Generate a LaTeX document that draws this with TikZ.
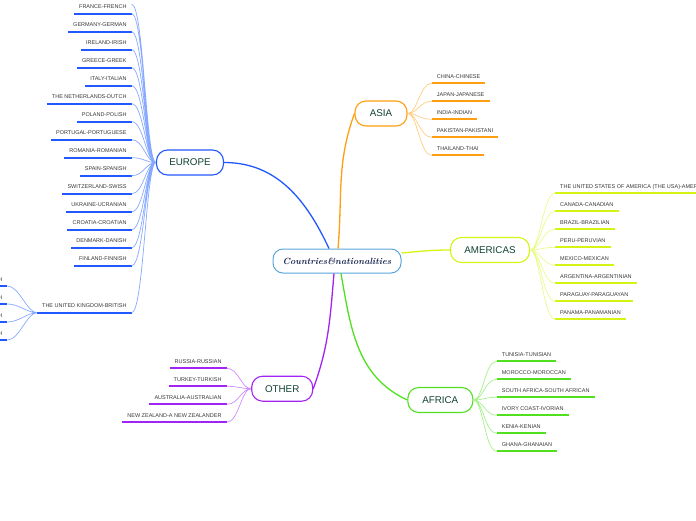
\documentclass[tikz,border=0pt]{standalone}
\usepackage{fontspec}
\setsansfont{Liberation Sans}
\usetikzlibrary{positioning}
\usepackage{xcolor}
\definecolor{centerblue}{RGB}{90,166,220}
\definecolor{titlenavy}{RGB}{22,36,80}
\definecolor{topictext}{RGB}{16,66,50}
\definecolor{leaftext}{RGB}{55,55,55}
\definecolor{eublue}{RGB}{34,88,255}
\definecolor{eulight}{RGB}{134,168,255}
\definecolor{asorange}{RGB}{255,158,16}
\definecolor{aslight}{RGB}{255,204,128}
\definecolor{amyellow}{RGB}{214,244,20}
\definecolor{amlight}{RGB}{234,250,140}
\definecolor{afgreen}{RGB}{80,224,30}
\definecolor{aflight}{RGB}{166,240,138}
\definecolor{otpurple}{RGB}{162,36,245}
\definecolor{otlight}{RGB}{204,140,255}

\begin{document}
\begin{tikzpicture}[x=1pt, y=1pt,
  topic/.style={rectangle, draw=#1, fill=white, rounded corners=11pt, line width=1.1pt, minimum height=25pt, inner xsep=0pt, font=\sffamily\fontsize{9.8}{11}\selectfont, text=topictext},
  leafl/.style={anchor=south west, inner xsep=5pt, inner ysep=4.6pt, text height=4pt, text depth=0pt, font=\sffamily\fontsize{5.5}{6}\selectfont, text=leaftext,
    append after command={\pgfextra{\let\leafnode\tikzlastnode} (\leafnode.south west) edge[draw=#1, line width=1.8pt] (\leafnode.south east)}},
  leafr/.style={leafl=#1, anchor=south east},
  branch/.style={draw=#1, line width=1.3pt},
  twig/.style={draw=#1, line width=0.7pt, out distance=10pt, in distance=12pt},
  rfan/.style={twig=#1, out=0, in=180},
  lfan/.style={twig=#1, out=180, in=0}]
\useasboundingbox (0,0) rectangle (696,-520);

% centre and main topics
\node[rectangle, draw=centerblue, fill=white, rounded corners=10pt, line width=1pt, minimum width=128pt, minimum height=24pt, font=\fontsize{9}{11}\selectfont\bfseries\itshape, text=titlenavy] (center) at (337,-261) {Countries\&nationalities};
\node[topic=eublue, minimum width=67pt] (europe) at (190,-162.5) {EUROPE};
\node[topic=asorange, minimum width=52pt] (asia) at (381,-113.5) {ASIA};
\node[topic=amyellow, minimum width=79pt] (americas) at (490,-250) {AMERICAS};
\node[topic=afgreen, minimum width=65pt] (africa) at (440.3,-400) {AFRICA};
\node[topic=otpurple, minimum width=61pt] (other) at (282.2,-388.7) {OTHER};

\draw[branch=eublue] ([xshift=-8pt]center.north) to[out=115, in=0] (europe.east);
\draw[branch=asorange] ([xshift=1pt]center.north) to[out=85, in=250] (asia.west);
\draw[branch=amyellow] ([yshift=8pt]center.east) to[out=5, in=180] (americas.west);
\draw[branch=afgreen] ([xshift=4pt]center.south) to[out=-80, in=155] (africa.west);
\draw[branch=otpurple] ([xshift=-3pt]center.south) to[out=-95, in=70] (other.east);

% asia
\node[leafl=asorange] (as1) at (431.7,-83.3) {CHINA-CHINESE};
\node[below=18pt of as1.south west, leafl=asorange] (as2) {JAPAN-JAPANESE};
\node[below=18pt of as2.south west, leafl=asorange] (as3) {INDIA-INDIAN};
\node[below=18pt of as3.south west, leafl=asorange] (as4) {PAKISTAN-PAKISTANI};
\node[below=18pt of as4.south west, leafl=asorange] (as5) {THAILAND-THAI};
\draw[rfan=aslight] (asia.east) to (as1.south west) (asia.east) to (as2.south west)
  (asia.east) to (as3.south west) (asia.east) to (as4.south west) (asia.east) to (as5.south west);

% americas
\node[leafl=amyellow] (am1) at (555,-193.3) {THE UNITED STATES OF AMERICA (THE USA)-AMERICAN};
\node[below=18pt of am1.south west, leafl=amyellow] (am2) {CANADA-CANADIAN};
\node[below=18pt of am2.south west, leafl=amyellow] (am3) {BRAZIL-BRAZILIAN};
\node[below=18pt of am3.south west, leafl=amyellow] (am4) {PERU-PERUVIAN};
\node[below=18pt of am4.south west, leafl=amyellow] (am5) {MEXICO-MEXICAN};
\node[below=18pt of am5.south west, leafl=amyellow] (am6) {ARGENTINA-ARGENTINIAN};
\node[below=18pt of am6.south west, leafl=amyellow] (am7) {PARAGUAY-PARAGUAYAN};
\node[below=18pt of am7.south west, leafl=amyellow] (am8) {PANAMA-PANAMANIAN};
\draw[rfan=amlight] (americas.east) to (am1.south west) (americas.east) to (am2.south west)
  (americas.east) to (am3.south west) (americas.east) to (am4.south west)
  (americas.east) to (am5.south west) (americas.east) to (am6.south west)
  (americas.east) to (am7.south west) (americas.east) to (am8.south west);

% africa
\node[leafl=afgreen] (af1) at (496.7,-361.3) {TUNISIA-TUNISIAN};
\node[below=18pt of af1.south west, leafl=afgreen] (af2) {MOROCCO-MOROCCAN};
\node[below=18pt of af2.south west, leafl=afgreen] (af3) {SOUTH AFRICA-SOUTH AFRICAN};
\node[below=18pt of af3.south west, leafl=afgreen] (af4) {IVORY COAST-IVORIAN};
\node[below=18pt of af4.south west, leafl=afgreen] (af5) {KENIA-KENIAN};
\node[below=18pt of af5.south west, leafl=afgreen] (af6) {GHANA-GHANAIAN};
\draw[rfan=aflight] (africa.east) to (af1.south west) (africa.east) to (af2.south west)
  (africa.east) to (af3.south west) (africa.east) to (af4.south west)
  (africa.east) to (af5.south west) (africa.east) to (af6.south west);

% other
\node[leafr=otpurple] (ot1) at (226.7,-368.3) {RUSSIA-RUSSIAN};
\node[below=18pt of ot1.south east, leafr=otpurple] (ot2) {TURKEY-TURKISH};
\node[below=18pt of ot2.south east, leafr=otpurple] (ot3) {AUSTRALIA-AUSTRALIAN};
\node[below=18pt of ot3.south east, leafr=otpurple] (ot4) {NEW ZEALAND-A NEW ZEALANDER};
\draw[lfan=otlight] (other.west) to (ot1.south east) (other.west) to (ot2.south east)
  (other.west) to (ot3.south east) (other.west) to (ot4.south east);

% europe
\coordinate (eu0) at (131.7,-4.3);
\node[leafr=eublue] (eu1) at (131.7,-13.7) {FRANCE-FRENCH};
\node[below=18pt of eu1.south east, leafr=eublue] (eu2) {GERMANY-GERMAN};
\node[below=18pt of eu2.south east, leafr=eublue] (eu3) {IRELAND-IRISH};
\node[below=18pt of eu3.south east, leafr=eublue] (eu4) {GREECE-GREEK};
\node[below=18pt of eu4.south east, leafr=eublue] (eu5) {ITALY-ITALIAN};
\node[below=18pt of eu5.south east, leafr=eublue] (eu6) {THE NETHERLANDS-DUTCH};
\node[below=18pt of eu6.south east, leafr=eublue] (eu7) {POLAND-POLISH};
\node[below=18pt of eu7.south east, leafr=eublue] (eu8) {PORTUGAL-PORTUGUESE};
\node[below=18pt of eu8.south east, leafr=eublue] (eu9) {ROMANIA-ROMANIAN};
\node[below=18pt of eu9.south east, leafr=eublue] (eu10) {SPAIN-SPANISH};
\node[below=18pt of eu10.south east, leafr=eublue] (eu11) {SWITZERLAND-SWISS};
\node[below=18pt of eu11.south east, leafr=eublue] (eu12) {UKRAINE-UCRANIAN};
\node[below=18pt of eu12.south east, leafr=eublue] (eu13) {CROATIA-CROATIAN};
\node[below=18pt of eu13.south east, leafr=eublue] (eu14) {DENMARK-DANISH};
\node[below=18pt of eu14.south east, leafr=eublue] (eu15) {FINLAND-FINNISH};
\node[below=47pt of eu15.south east, leafr=eublue] (eu16) {THE UNITED KINGDOM-BRITISH};
\draw[lfan=eulight] (europe.west) to (eu0) (europe.west) to (eu1.south east)
  (europe.west) to (eu2.south east) (europe.west) to (eu3.south east)
  (europe.west) to (eu4.south east) (europe.west) to (eu5.south east)
  (europe.west) to (eu6.south east) (europe.west) to (eu7.south east)
  (europe.west) to (eu8.south east) (europe.west) to (eu9.south east)
  (europe.west) to (eu10.south east) (europe.west) to (eu11.south east)
  (europe.west) to (eu12.south east) (europe.west) to (eu13.south east)
  (europe.west) to (eu14.south east) (europe.west) to (eu15.south east)
  (europe.west) to (eu16.south east);

% united kingdom
\node[leafr=eublue] (uk1) at (7.3,-286) {ENGLAND-ENGLISH};
\node[below=18pt of uk1.south east, leafr=eublue] (uk2) {SCOTLAND-SCOTTISH};
\node[below=18pt of uk2.south east, leafr=eublue] (uk3) {WALES-WELSH};
\node[below=18pt of uk3.south east, leafr=eublue] (uk4) {NORTHERN IRELAND-NORTHERN IRISH};
\draw[lfan=eulight] (eu16.south west) to (uk1.south east) (eu16.south west) to (uk2.south east)
  (eu16.south west) to (uk3.south east) (eu16.south west) to (uk4.south east);
\end{tikzpicture}
\end{document}
